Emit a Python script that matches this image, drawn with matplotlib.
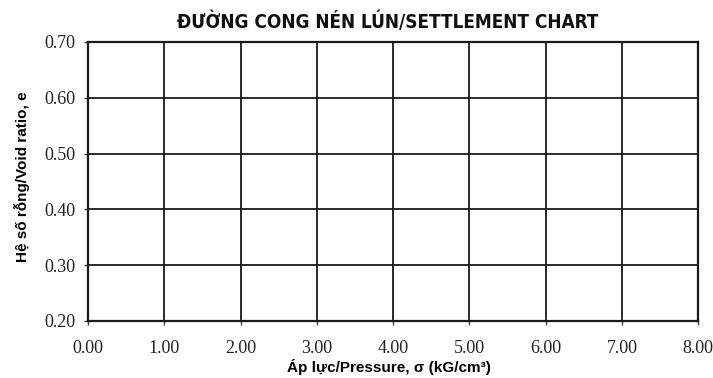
import numpy as np
import matplotlib.pyplot as plt

x_ticks = [0.0, 1.0, 2.0, 3.0, 4.0, 5.0, 6.0, 7.0, 8.0]
y_ticks = [0.20, 0.30, 0.40, 0.50, 0.60, 0.70]
title = "ĐƯỜNG CONG NÉN LÚN/SETTLEMENT CHART"
x_label = "Áp lực/Pressure, σ (kG/cm³)"
y_label = "Hệ số rỗng/Void ratio, e"

fig = plt.figure(figsize=(7.13, 3.78), dpi=100)
ax = fig.add_axes([0.1234, 0.151, 0.856, 0.738])

ax.set_xlim(x_ticks[0], x_ticks[-1])
ax.set_ylim(y_ticks[0], y_ticks[-1])
ax.set_xticks(x_ticks)
ax.set_yticks(y_ticks)
ax.set_xticklabels(["%.2f" % v for v in x_ticks], family="Liberation Serif", fontsize=13, color="#222222")
ax.set_yticklabels(["%.2f" % v for v in y_ticks], family="Liberation Serif", fontsize=13, color="#222222")
ax.tick_params(direction="out", length=3, width=1, color="#444444", pad=6)
ax.tick_params(axis="x", pad=11)

ax.grid(True, color="#1a1a1a", linewidth=1.3)
for s in ax.spines.values():
    s.set_linewidth(1.6)
    s.set_color("#1a1a1a")

fig.text(0.544, 0.942, title, ha="center", va="center", fontsize=13.6,
         family="DejaVu Sans", stretch="condensed", fontweight="bold", color="#111111")
fig.text(0.545, 0.03, x_label, ha="center", va="center", fontsize=11,
         family="Liberation Sans", fontweight="bold")
fig.text(0.031, 0.533, y_label, ha="center", va="center", rotation=90, fontsize=11,
         family="Liberation Sans", fontweight="bold")

fig.savefig("out.png", dpi=100)
